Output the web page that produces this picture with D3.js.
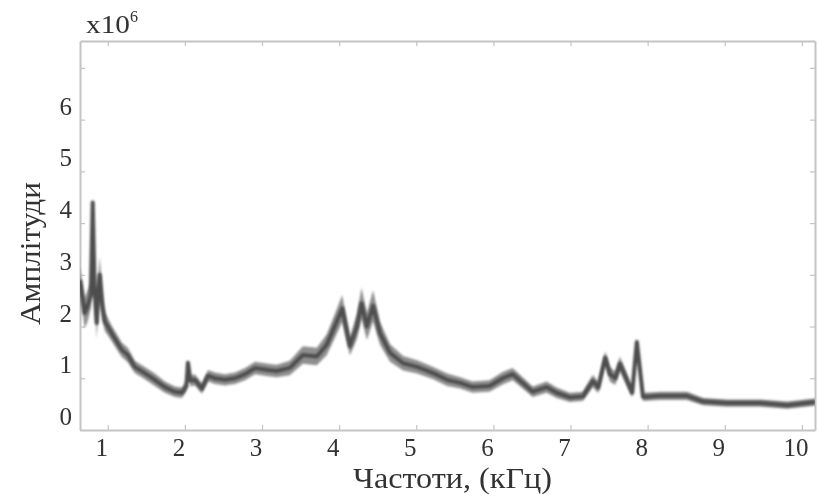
<!DOCTYPE html>
<html lang="uk">
<head>
<meta charset="utf-8">
<title>Спектр</title>
<script src="https://cdn.jsdelivr.net/npm/d3@7"></script>
<style>
  body { margin: 0; background: #fff; }
  text { font-family: "Liberation Serif", "DejaVu Serif", serif; fill: #333; }
</style>
</head>
<body>
<script>
// frequency, kHz
var freq = [0.64, 0.70, 0.74, 0.78, 0.805, 0.83, 0.857, 0.875, 0.896, 0.93, 0.961, 1.05, 1.18, 1.26, 1.35, 1.48,
  1.61, 1.74, 1.87, 1.96, 2.02, 2.04, 2.07, 2.13, 2.22, 2.30, 2.39, 2.52, 2.65, 2.78, 2.91, 3.08, 3.19, 3.36,
  3.53, 3.71, 3.84, 3.97, 4.04, 4.14, 4.23, 4.29, 4.36, 4.44, 4.53, 4.66, 4.83, 5.01, 5.22, 5.40, 5.57, 5.73,
  5.95, 6.12, 6.25, 6.38, 6.51, 6.69, 6.82, 6.99, 7.16, 7.29, 7.36, 7.45, 7.51, 7.58, 7.64, 7.73, 7.80, 7.86,
  7.94, 8.16, 8.51, 8.72, 9.03, 9.46, 9.81, 10.17];
// amplitude, x10^6
var amp = [2.9, 2.26, 2.4, 2.6, 4.4, 2.7, 2.07, 2.6, 3.0, 2.4, 2.1, 1.87, 1.55, 1.45, 1.22, 1.1,
  0.97, 0.83, 0.74, 0.72, 0.85, 1.3, 0.95, 0.97, 0.8, 1.05, 1.0, 0.97, 1.0, 1.08, 1.2, 1.16, 1.14, 1.2,
  1.45, 1.42, 1.65, 2.1, 2.35, 1.62, 2.0, 2.45, 2.0, 2.4, 1.87, 1.49, 1.29, 1.22, 1.1, 0.97, 0.91, 0.83,
  0.85, 1.0, 1.08, 0.91, 0.74, 0.83, 0.72, 0.63, 0.65, 0.95, 0.82, 1.4, 1.08, 1.0, 1.28, 0.97, 0.72, 1.7,
  0.64, 0.66, 0.66, 0.55, 0.52, 0.52, 0.48, 0.54];
// half width of the noise band, x10^6
var spread = [0.25, 0.3, 0.3, 0.25, 0.05, 0.25, 0.3, 0.35, 0.35, 0.25, 0.18, 0.15, 0.14, 0.14, 0.12, 0.12,
  0.12, 0.11, 0.1, 0.1, 0.1, 0.05, 0.11, 0.11, 0.1, 0.11, 0.11, 0.11, 0.11, 0.12, 0.12, 0.12, 0.12, 0.14,
  0.17, 0.17, 0.2, 0.24, 0.26, 0.18, 0.24, 0.3, 0.26, 0.3, 0.22, 0.17, 0.14, 0.13, 0.12, 0.12, 0.11, 0.11,
  0.11, 0.12, 0.12, 0.11, 0.1, 0.11, 0.1, 0.09, 0.09, 0.12, 0.11, 0.12, 0.14, 0.13, 0.14, 0.12, 0.09, 0.06,
  0.08, 0.08, 0.08, 0.07, 0.07, 0.07, 0.07, 0.07];

var xTicks = [1, 2, 3, 4, 5, 6, 7, 8, 9, 10];
var yTicks = [0, 1, 2, 3, 4, 5, 6, 7];
var yLabels = [0, 1, 2, 3, 4, 5, 6];

var w = 818, h = 497;
var mLeft = 80, mTop = 41, mRight = 815, mBottom = 430;

var svg = d3.select("body").append("svg").attr("width", w).attr("height", h);

var x = d3.scaleLinear().domain([0.64, 10.17]).range([mLeft, mRight]);
var y = d3.scaleLinear().domain([0, 7.52]).range([mBottom, mTop]);

var data = freq.map(function(f, i){ return {f: f, v: amp[i], s: spread[i]}; });

var defs = svg.append("defs");
defs.append("filter").attr("id", "soft")
  .append("feGaussianBlur").attr("stdDeviation", 1.2);
defs.append("filter").attr("id", "softText")
  .append("feGaussianBlur").attr("stdDeviation", 0.5);
defs.append("clipPath").attr("id", "box")
  .append("rect").attr("x", mLeft).attr("y", mTop).attr("width", mRight - mLeft).attr("height", mBottom - mTop);

// axes box with inward ticks
var axisColor = "#c4c4c4";
function styleAxis(g){
  g.select(".domain").attr("stroke", axisColor).attr("stroke-width", 2);
  g.selectAll(".tick line").attr("stroke", axisColor).attr("stroke-width", 1.2);
}
svg.append("g").attr("transform", "translate(0," + mBottom + ")")
  .call(d3.axisBottom(x).tickValues(xTicks).tickSizeInner(-5).tickSizeOuter(0).tickFormat(""))
  .call(styleAxis);
svg.append("g").attr("transform", "translate(0," + mTop + ")")
  .call(d3.axisTop(x).tickValues(xTicks).tickSizeInner(-5).tickSizeOuter(0).tickFormat(""))
  .call(styleAxis);
svg.append("g").attr("transform", "translate(" + mLeft + ",0)")
  .call(d3.axisLeft(y).tickValues(yTicks).tickSizeInner(-5).tickSizeOuter(0).tickFormat(""))
  .call(styleAxis);
svg.append("g").attr("transform", "translate(" + mRight + ",0)")
  .call(d3.axisRight(y).tickValues(yTicks).tickSizeInner(-5).tickSizeOuter(0).tickFormat(""))
  .call(styleAxis);

// the spectrum: noise band plus dark core
var plot = svg.append("g").attr("clip-path", "url(#box)");
plot.append("path").datum(data)
  .attr("d", d3.area().x(function(d){ return x(d.f); })
    .y0(function(d){ return y(d.v - d.s); })
    .y1(function(d){ return y(d.v + d.s); }))
  .attr("fill", "#6a6a6a").attr("opacity", 0.75).attr("filter", "url(#soft)");
plot.append("path").datum(data)
  .attr("d", d3.line().x(function(d){ return x(d.f); }).y(function(d){ return y(d.v); }))
  .attr("fill", "none").attr("stroke", "#4d4d4d").attr("stroke-width", 4)
  .attr("stroke-linejoin", "round").attr("filter", "url(#soft)");

var labels = svg.append("g").attr("filter", "url(#softText)");

// tick labels
labels.append("g").selectAll("text").data(xTicks).enter().append("text")
  .attr("x", function(d){ return x(d) - 6; })
  .attr("y", 456)
  .attr("text-anchor", "middle")
  .attr("font-size", 25)
  .text(function(d){ return d; });
labels.append("g").selectAll("text").data(yLabels).enter().append("text")
  .attr("x", 72)
  .attr("y", function(d){ return y(d) - 5; })
  .attr("text-anchor", "end")
  .attr("font-size", 25)
  .text(function(d){ return d; });

// titles
labels.append("text").attr("x", 353).attr("y", 488)
  .attr("font-size", 29).attr("textLength", 199).attr("lengthAdjust", "spacingAndGlyphs")
  .text("Частоти, (кГц)");
labels.append("text").attr("transform", "translate(40,325) rotate(-90)")
  .attr("font-size", 29).attr("textLength", 143).attr("lengthAdjust", "spacingAndGlyphs")
  .text("Амплітуди");
var mult = labels.append("text").attr("x", 86).attr("y", 33).attr("font-size", 25);
mult.append("tspan").attr("textLength", 44).attr("lengthAdjust", "spacingAndGlyphs").text("x10");
mult.append("tspan").attr("dy", -11).attr("font-size", 16).text("6");
</script>
</body>
</html>
